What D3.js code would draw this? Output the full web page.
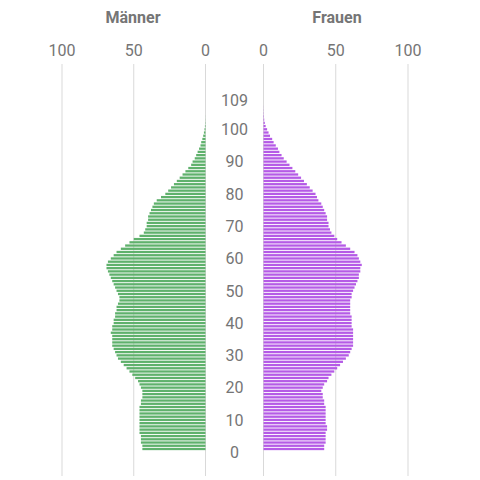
<!DOCTYPE html>
<html><head><meta charset="utf-8">
<script src="https://cdn.jsdelivr.net/npm/d3@7"></script>
<style>body{margin:0;background:#fff}</style></head>
<body><svg id="c" width="480" height="480"></svg>
<script>
const ages = d3.range(0,110);
const ageLabels = [0,10,20,30,40,50,60,70,80,90,100,109];
const ticks = [0,50,100];
const men = [44,44,45,45,45,46,46,46,46,46,
46,46,46,46,45,45,44,44,44,45,
46,47,49,51,53,55,57,59,61,62,
63,64,65,65,65,65,66,65,65,64,
64,63,63,62,62,61,60,60,61,62,
63,64,65,66,67,68,69,69,68,66,
64,62,59,56,53,50,46,43,42,41,
41,40,40,39,38,37,36,34,31,28,
26,24,22,20,18,16,14,12,10,9,
7.5,6.5,5.5,4.5,3.5,3,2.2,1.6,1.1,0.7,
0.4,0.2,0.1,0.05,0,0,0,0,0,0];
const women = [42,42,43,43,43,43,44,44,43,43,
43,43,43,43,42,42,41,41,40,41,
42,44,45,47,49,51,53,55,57,59,
60,61,62,62,62,62,62,62,61,61,
61,61,60,60,60,60,60,61,61,62,
63,64,65,66,66,67,67,68,67,66,
65,63,60,57,54,51,49,47,46,45,
45,44,44,43,42,41,40,38,37,36,
34,32,30,28,26,24,22,20,18,16,
14,12.5,11,10,8.5,7,6,4.5,3.5,2.5,
1.5,0.9,0.5,0.3,0.15,0.1,0.05,0,0,0];

const svg = d3.select("#c");
const xm = d3.scaleLinear().domain([0,100]).range([205.5,62]);
const xw = d3.scaleLinear().domain([0,100]).range([263.5,408]);
const y = d3.scaleLinear().domain([0,109]).range([452,100]);
const bh = 2.3;
const grey = "#757575";

[xm,xw].forEach(s=>{
  svg.append("g").selectAll("line").data(ticks).join("line")
    .attr("x1",d=>s(d)).attr("x2",d=>s(d)).attr("y1",64).attr("y2",476)
    .attr("stroke","#d9d9d9").attr("stroke-width",1);
  svg.append("g").selectAll("text").data(ticks).join("text")
    .attr("x",d=>s(d)).attr("y",56).attr("text-anchor","middle")
    .attr("font-family","Roboto, Arial, sans-serif").attr("font-size",16)
    .attr("fill",grey).text(d=>d);
});

svg.append("g").selectAll("rect").data(ages).join("rect")
  .attr("x",d=>xm(men[d])).attr("width",d=>xm(0)-xm(men[d]))
  .attr("y",d=>y(d)-bh/2-3).attr("height",bh).attr("fill","#5fb16c");
svg.append("g").selectAll("rect").data(ages).join("rect")
  .attr("x",xw(0)).attr("width",d=>xw(women[d])-xw(0))
  .attr("y",d=>y(d)-bh/2-3).attr("height",bh).attr("fill","#b55be6");

svg.append("g").selectAll("text").data(ageLabels).join("text")
  .attr("x",234.5).attr("y",d=>y(d)+6).attr("text-anchor","middle")
  .attr("font-family","Roboto, Arial, sans-serif").attr("font-size",16)
  .attr("fill",grey).text(d=>d);

svg.append("text").attr("x",133).attr("y",23).attr("text-anchor","middle")
  .attr("font-family","Roboto, Arial, sans-serif").attr("font-size",16).attr("font-weight","bold")
  .attr("fill",grey).text("Männer");
svg.append("text").attr("x",337).attr("y",23).attr("text-anchor","middle")
  .attr("font-family","Roboto, Arial, sans-serif").attr("font-size",16).attr("font-weight","bold")
  .attr("fill",grey).text("Frauen");
</script></body></html>
